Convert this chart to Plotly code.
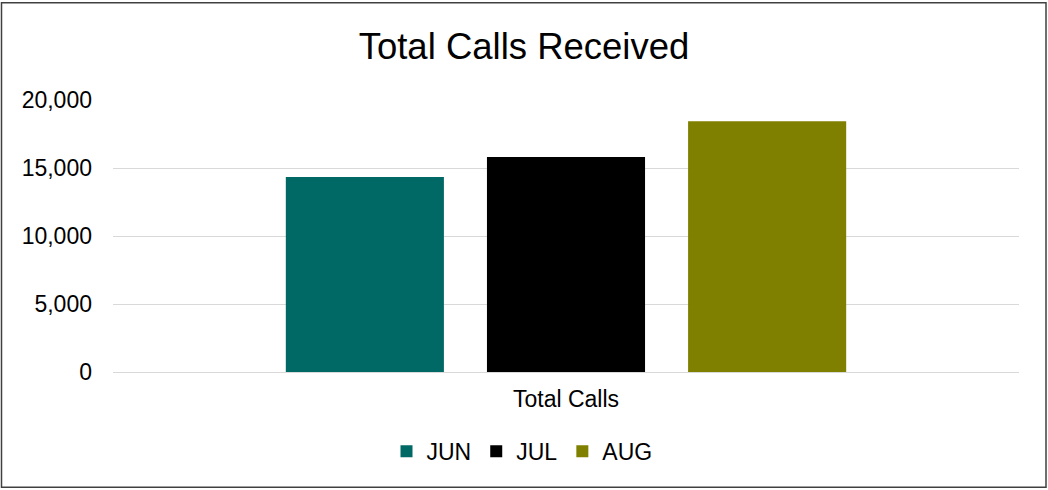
import plotly.graph_objects as go

categories = ["Total Calls"]
months = ["JUN", "JUL", "AUG"]
values_jun = [14330]
values_jul = [15800]
values_aug = [18440]
colors = ["#006966", "#000000", "#7f7f00"]
y_ticks = [0, 5000, 10000, 15000, 20000]

series = [values_jun, values_jul, values_aug]

fig = go.Figure()
for name, vals, col in zip(months, series, colors):
    fig.add_trace(go.Bar(x=categories, y=vals, name=name, marker=dict(color=col, line=dict(width=0))))

W, H = 1048, 490
L, R, T, B = 113, 29, 100, 117.5
pw = W - L - R
ph = H - T - B

fig.update_layout(
    width=W, height=H,
    margin=dict(l=L, r=R, t=T, b=B, autoexpand=False),
    paper_bgcolor="white", plot_bgcolor="white",
    font=dict(family="Liberation Sans, Arial", size=23, color="#000000"),
    title=dict(text="Total Calls Received", x=0.5, xanchor="center", xref="container",
               y=1 - 58.5 / H, yanchor="bottom", yref="container",
               font=dict(size=36.5, color="#000000")),
    barmode="group", bargap=0.334, bargroupgap=0.214,
    showlegend=True,
    legend=dict(orientation="h", x=(522 - L) / pw, xanchor="center",
                y=-(452 - (T + ph)) / ph, yanchor="middle",
                font=dict(size=23), itemclick=False, traceorder="normal",
                bgcolor="rgba(0,0,0,0)"),
    xaxis=dict(showgrid=False, showline=False, zeroline=False, ticks="",
               ticklabelstandoff=11, tickfont=dict(size=23)),
    yaxis=dict(range=[0, 20000], tickvals=y_ticks, tickformat=",d",
               showgrid=True, gridcolor="#d9d9d9", gridwidth=1.3,
               zeroline=True, zerolinecolor="#d9d9d9", zerolinewidth=1.3,
               showline=False, ticks="", ticklabelstandoff=20,
               tickfont=dict(size=23)),
)

# outer chart border
fig.add_shape(type="rect", xref="paper", yref="paper",
              x0=(1.5 - L) / pw, x1=(1046 - L) / pw,
              y0=-(488 - (T + ph)) / ph, y1=1 + (T - 2.5) / ph,
              line=dict(color="#404040", width=1.5), layer="below")

fig.write_html("out.html", config={"displayModeBar": False},
               post_script="document.body.style.margin='0';document.body.style.overflow='hidden';")
